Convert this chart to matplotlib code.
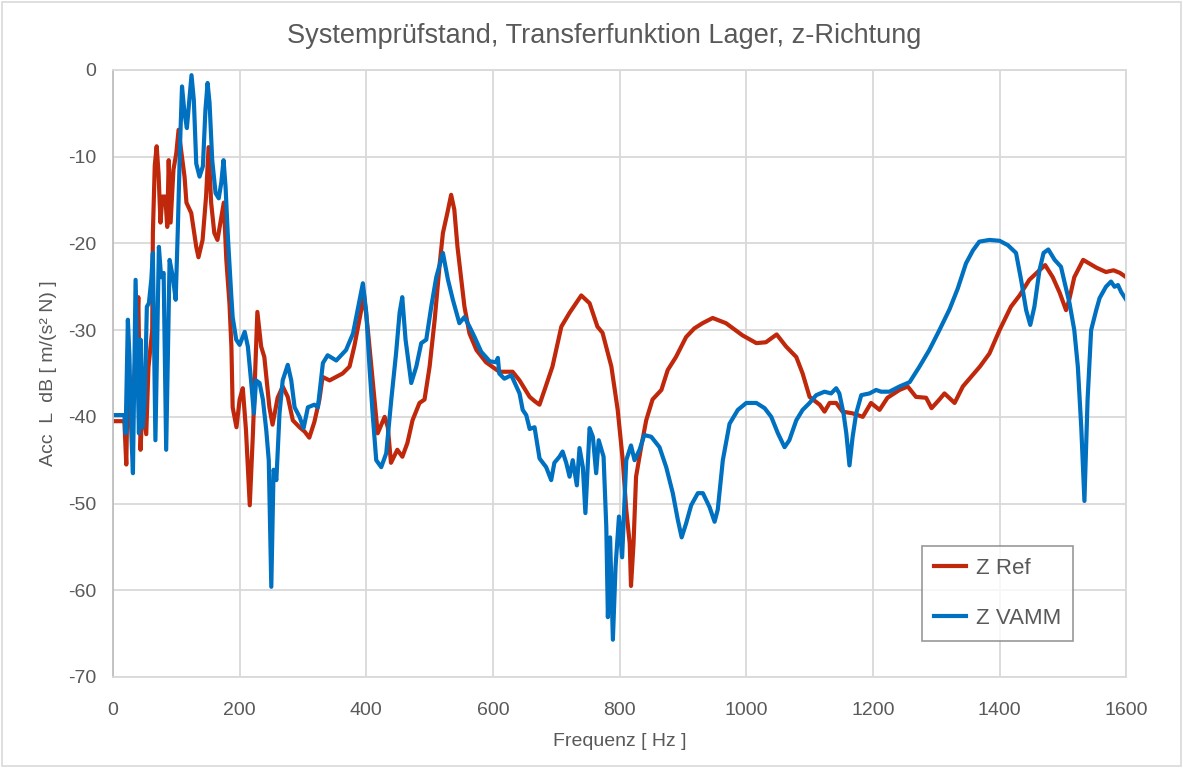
import matplotlib
matplotlib.use("Agg")
import numpy as np
from matplotlib import pyplot as plt
from matplotlib.patches import Rectangle

# Z Ref: frequency [Hz] and level [dB]
ref_f = [0, 18, 21, 24, 28, 33, 38, 40, 43.5, 47, 52.5, 56, 62, 63, 66, 69, 72, 75, 78,
         82.6, 85.7, 88, 91, 95.5, 100, 103.6, 108, 113, 116, 123.6, 131.5, 135, 141.5,
         147, 151, 155, 160, 165, 171, 175, 179, 184, 187, 189, 195, 200, 205, 210, 216,
         221, 228, 234, 239, 247, 252, 260, 268, 276, 284, 294.6, 302.6, 310, 318, 326,
         331, 342, 362.6, 373.6, 381, 392, 396, 402, 410, 418, 429, 434, 439, 449, 457,
         465, 473, 484, 492, 500, 508, 516, 521, 528, 534, 539, 544, 550, 555, 563, 574,
         589, 610, 631, 642, 658, 666, 673.5, 681.5, 694, 708, 721, 739.5, 752.6, 765,
         773, 787, 797, 805, 810.5, 816, 818, 822, 826, 834, 842, 852, 866, 876, 889,
         905, 918, 931, 947, 968, 994, 1016, 1031, 1048, 1063, 1079, 1089, 1100, 1116,
         1123.6, 1131.6, 1142, 1152, 1168, 1184, 1197, 1210.5, 1223, 1242, 1255, 1268,
         1284, 1292.6, 1305, 1313, 1329, 1342, 1369, 1384, 1400, 1418, 1431.6, 1447,
         1463, 1472, 1484, 1495, 1505, 1510, 1518, 1532, 1553, 1568, 1580, 1590, 1600]
ref_db = [-40.5, -40.5, -45.5, -33, -40, -36, -30, -26.2, -43.8, -38, -42, -34.3, -30,
          -18.8, -11, -8.8, -12, -17.6, -14.6, -14.6, -18.1, -10.4, -17.6, -11.5, -9.6,
          -6.9, -9.5, -12.3, -15.3, -16.5, -20.4, -21.6, -19.6, -14.6, -8.9, -15.3,
          -18.8, -19.6, -17, -15.3, -21.9, -27, -31.9, -38.9, -41.2, -38, -36.7, -41.5,
          -50.2, -41.9, -27.9, -31.9, -33.1, -38.9, -40.9, -37.8, -36.5, -37.7, -40.4,
          -41.2, -41.7, -42.4, -40.6, -38, -35.4, -35.8, -35, -34.2, -31.9, -27.7, -25.7,
          -29.6, -35.8, -41.9, -40, -41.2, -45.3, -43.8, -44.6, -43, -40.4, -38.4, -38,
          -34.2, -28.8, -22.3, -18.8, -16.5, -14.4, -16.1, -20.4, -24.2, -27.3, -30.4,
          -32.3, -33.7, -34.8, -34.8, -35.8, -37.7, -38.2, -38.6, -36.9, -34.2, -29.6,
          -28, -26, -26.9, -29.6, -30.3, -34.2, -39.2, -45, -50.7, -54.6, -59.5, -54.6,
          -46.9, -43.5, -40.4, -38, -36.9, -34.6, -33.1, -30.8, -29.8, -29.2, -28.6,
          -29.2, -30.6, -31.5, -31.4, -30.5, -31.9, -33.1, -35, -37.7, -38.6, -39.4,
          -38.4, -38.4, -39.4, -39.6, -40, -38.4, -39.2, -37.8, -36.9, -36.5, -37.7,
          -37.8, -39, -38, -37.3, -38.4, -36.5, -34.2, -32.7, -30, -27.3, -26, -24.2,
          -23.1, -22.5, -23.9, -25.7, -27.7, -26.5, -23.9, -21.9, -22.8, -23.3, -23.1,
          -23.4, -23.9]

# Z VAMM: frequency [Hz] and level [dB]
vamm_f = [0, 18, 20, 23.5, 26, 28, 31.5, 35.7, 41, 43.6, 47, 50, 53.5, 56.7, 60.5, 63,
          67, 72.5, 76, 80, 84, 89.4, 94.6, 99, 102.5, 106, 109, 113, 116.7, 121, 124,
          127.7, 131.5, 136.7, 142, 146, 149.4, 152.5, 156.7, 162, 167, 171, 174.6,
          177.8, 181.5, 186.8, 189, 194.6, 200, 208, 213, 218, 222.5, 226, 231.5, 236.7,
          242, 246, 250, 253.6, 258, 263, 268, 276, 281.5, 286.8, 294.6, 301, 307.8, 318,
          323.6, 331.5, 339, 352.6, 368, 379, 389.4, 394.6, 400, 405, 410, 415.7, 423.6,
          431.5, 439.5, 447, 452.6, 456.8, 462, 471, 479, 486.8, 494.7, 502.6, 510.5, 521,
          529, 536.7, 547, 555, 563, 571, 581.5, 595, 605, 607.8, 610, 618, 629, 642, 647,
          652.6, 658, 665.7, 673.6, 684, 692, 697, 705, 710, 715.7, 721, 726, 732.5,
          736.7, 742, 746, 752.6, 757.8, 763, 767, 774.7, 779, 781.5, 785, 789.4, 793.6,
          799, 804, 810.5, 818, 823.6, 831.5, 839, 850, 863, 873.6, 884, 892, 898, 905,
          913, 923.6, 931.5, 942, 950, 955, 963, 973.6, 986.7, 1000, 1016, 1029, 1039.5,
          1050, 1060.5, 1068, 1079, 1089, 1100, 1110.5, 1123.6, 1134, 1142, 1147, 1153.6,
          1158, 1163, 1168, 1173.6, 1181.6, 1194.7, 1205, 1213, 1226, 1242, 1258, 1273.6,
          1289, 1305, 1321, 1334, 1347, 1358, 1368, 1384, 1400, 1413, 1426, 1434, 1442,
          1448.5, 1455, 1463, 1469.5, 1477, 1487, 1497, 1503, 1510.5, 1518, 1523.6, 1529,
          1534, 1539, 1544.6, 1552.6, 1558, 1568, 1576, 1581.6, 1587, 1592, 1600]
vamm_db = [-39.8, -39.8, -41.9, -28.8, -33, -40, -46.5, -24.2, -41.9, -31.1, -41.2, -38.4,
           -27.3, -26.9, -24.2, -21.1, -42.7, -20.4, -23.9, -23.4, -43.8, -21.9, -23.9,
           -26.5, -18.1, -8.4, -1.9, -5, -6.7, -3.1, -0.6, -3.5, -10.8, -12.3, -11.1, -4.6,
           -1.5, -3.8, -10.4, -14.2, -14.8, -13, -10.4, -13.5, -19.3, -26, -28.5, -31.1,
           -31.7, -30.2, -31.9, -35.8, -39.6, -35.8, -36.1, -38, -41.5, -45, -59.6, -46.1,
           -47.3, -39.6, -35.8, -34, -35.8, -38.9, -40, -41.3, -38.9, -38.6, -38.9, -33.8,
           -32.9, -33.5, -32.3, -30.4, -26.5, -24.6, -28, -34.2, -39.6, -45, -45.8, -44.2,
           -38, -32.7, -28, -26.2, -31.1, -36.1, -34.2, -31.5, -31.1, -27.3, -23.9, -21.1,
           -24.2, -26.5, -29.2, -28.5, -29.6, -30.8, -32.5, -33.6, -33.7, -33.2, -35,
           -35.6, -35.2, -37.3, -39.2, -39.8, -41.4, -41.2, -44.8, -45.8, -47.3, -45.3,
           -44.6, -44, -45.3, -46.9, -45, -47.9, -43.6, -45.8, -51.1, -41.3, -42.3, -46.5,
           -42.7, -44.6, -52.7, -63.1, -53.9, -65.7, -57.3, -51.5, -56.2, -45, -43.3, -45,
           -43.8, -42.1, -42.3, -43.5, -45.8, -48.8, -51.9, -53.9, -52.3, -50.2, -48.8,
           -48.8, -50.4, -52.1, -50.7, -45, -40.8, -39.2, -38.4, -38.4, -39, -40, -41.9,
           -43.5, -42.7, -40.4, -39.2, -38.4, -37.5, -37.1, -37.3, -36.7, -37.3, -39.6,
           -41.9, -45.6, -42.3, -39.6, -37.5, -37.3, -36.9, -37.1, -37.1, -36.5, -36,
           -34.2, -32.3, -30, -27.6, -25.2, -22.3, -20.8, -19.8, -19.6, -19.7, -20.2,
           -21.1, -24.2, -27.7, -29.4, -27.3, -23.1, -21.1, -20.7, -21.9, -22.7, -24.6,
           -26.9, -30, -34.2, -41.2, -49.7, -38, -30, -27.7, -26.3, -25, -24.4, -25, -24.8,
           -25.6, -26.5]

x_ticks = np.arange(0, 1601, 200)
y_ticks = np.arange(-70, 1, 10)

text_grey = '#595959'
grid_grey = '#D9D9D9'
plt.rcParams['font.family'] = ['Liberation Sans', 'DejaVu Sans']
plt.rcParams['axes.unicode_minus'] = False

fig = plt.figure(figsize=(11.83, 7.68), dpi=100)
ax = fig.add_axes([0.0955, 0.1185, 0.8565, 0.7904])

ax.plot(ref_f, ref_db, color='#C0280C', lw=3.0, label='Z Ref', solid_joinstyle='round')
ax.plot(vamm_f, vamm_db, color='#0070C0', lw=3.0, label='Z VAMM', solid_joinstyle='round')

ax.set_xlim(0, 1600)
ax.set_ylim(-70, 0)
ax.set_xticks(x_ticks)
ax.set_yticks(y_ticks)
ax.grid(True, color=grid_grey, lw=1.3)
ax.set_axisbelow(True)
ax.tick_params(length=0, labelsize=14, labelcolor=text_grey)
ax.tick_params(axis='x', pad=18)
ax.tick_params(axis='y', pad=12)
for side, sp in ax.spines.items():
    sp.set_color(grid_grey if side != 'left' else '#BFBFBF')
    sp.set_linewidth(1.3)

ax.set_xlabel('Frequenz [ Hz ]', fontsize=14, color=text_grey, labelpad=10)
ax.set_ylabel('Acc  L  dB [ m/(s² N) ]', fontsize=14, color=text_grey, labelpad=8)
fig.suptitle('Systemprüfstand, Transferfunktion Lager, z-Richtung', fontsize=19.5,
             color=text_grey, x=0.511, y=0.97)

leg = ax.legend(loc='lower right', bbox_to_anchor=(0.9475, 0.059), fontsize=16,
                frameon=True, fancybox=False, handlelength=1.4, labelspacing=1.3,
                borderpad=0.55, handletextpad=0.45, borderaxespad=0)
leg.get_frame().set_edgecolor('#7F7F7F')
leg.get_frame().set_linewidth(1.2)
for t in leg.get_texts():
    t.set_color(text_grey)

# thin frame around the whole chart area
fig.patches.append(Rectangle((0.002, 0.002), 0.996, 0.996, transform=fig.transFigure,
                             fill=False, edgecolor=grid_grey, lw=1.2))

fig.savefig('out.png', dpi=100)
